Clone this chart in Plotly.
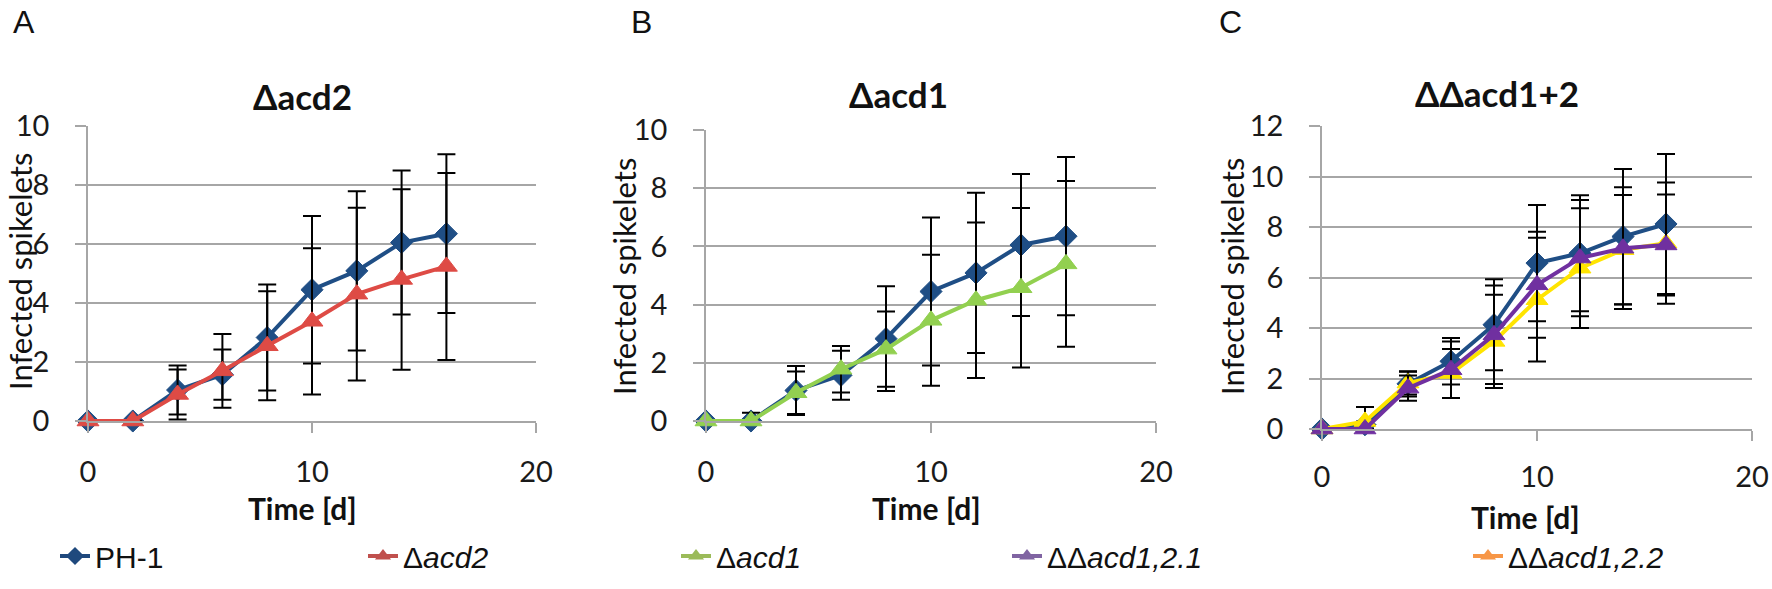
import plotly.graph_objects as go

W, H = 1772, 589

# ---- data ----
days = [0, 2, 4, 6, 8, 10, 12, 14, 16]

ph1_ab = [0, 0, 1.05, 1.57, 2.83, 4.45, 5.09, 6.05, 6.35]
ph1_a_err = [None, None, 0.83, 0.85, 1.8, 2.5, 2.7, 2.44, 2.69]
ph1_b_err = [None, None, 0.84, 0.84, 1.8, 2.54, 2.75, 2.44, 2.72]

acd2 = [0, 0, 0.9, 1.7, 2.55, 3.38, 4.3, 4.8, 5.24]
acd2_err = [None, None, 0.85, 1.25, 1.85, 2.48, 2.93, 3.06, 3.17]

acd1 = [0, 0, 0.97, 1.78, 2.47, 3.46, 4.15, 4.58, 5.4]
acd1_err = [None, 0.28, 0.73, 0.8, 1.29, 2.25, 2.67, 2.74, 2.85]

ph1_c = [0, 0.17, 1.79, 2.68, 4.13, 6.57, 6.96, 7.62, 8.12]
ph1_c_err = [None, 0.7, 0.5, 0.92, 1.8, 2.3, 2.3, 2.68, 2.77]

dd21 = [0, 0, 1.62, 2.35, 3.73, 5.71, 6.77, 7.16, 7.29]
dd21_err = [None, None, 0.5, 1.12, 1.95, 2.1, 2.3, 2.41, 2.0]

dd22 = [0, 0.3, 1.82, 2.2, 3.47, 5.12, 6.37, 7.1, 7.36]
dd22_err = [None, None, 0.45, 0.97, 1.85, 2.45, 2.37, 2.17, 2.4]

panel_titles = ["Δacd2", "Δacd1", "ΔΔacd1+2"]
panel_letters = ["A", "B", "C"]
y_ranges = [10, 10, 12]
legend_names = ["PH-1", "Δ<i>acd2</i>", "Δ<i>acd1</i>", "ΔΔ<i>acd1,2.1</i>", "ΔΔ<i>acd1,2.2</i>"]

# colours
BLUE = "#1F4E85"
RED = "#DE4B45"
GREEN = "#92D050"
PURPLE = "#7030A0"
YELLOW = "#FFE400"
LEG_COLORS = ["#1F497D", "#C0504D", "#9BBB59", "#8064A2", "#F79646"]
GRID = "#A6A6A6"

# ---- layout geometry in pixels ----
boxes = [  # x0, x1, ytop, ybottom
    (88, 536, 126, 421),
    (706, 1156, 130, 421),
    (1322, 1752, 126, 429),
]
title_pos = [(302, 96), (899, 94), (1497, 93)]
letter_pos = [(24, 22), (641, 22), (1230, 22)]
ytitle_pos = [(20, 272), (624, 277), (1232, 277)]
xtitle_pos = [(302, 508), (926, 508), (1525, 517)]
legend_text_x = [101, 409, 722, 1053, 1514]
LEGEND_Y = 556


def px(x):
    return x / W


def py(y):
    return 1 - y / H


fig = go.Figure()


def add_series(n, y, err, color, symbol, size):
    fig.add_trace(go.Scatter(
        x=days, y=y,
        mode="lines+markers",
        line=dict(color=color, width=4),
        marker=dict(symbol=symbol, size=size, color=color, line=dict(color=color, width=1)),
        error_y=dict(type="data", array=err, color="black", thickness=2, width=9),
        xaxis="x" if n == 1 else f"x{n}",
        yaxis="y" if n == 1 else f"y{n}",
        cliponaxis=False,
        showlegend=False,
    ))


# panel A
add_series(1, ph1_ab, ph1_a_err, BLUE, "diamond", 17)
add_series(1, acd2, acd2_err, RED, "triangle-up", 19)
# panel B
add_series(2, ph1_ab, ph1_b_err, BLUE, "diamond", 17)
add_series(2, acd1, acd1_err, GREEN, "triangle-up", 19)
# panel C
add_series(3, ph1_c, ph1_c_err, BLUE, "diamond", 17)
add_series(3, dd22, dd22_err, YELLOW, "triangle-up", 19)
add_series(3, dd21, dd21_err, PURPLE, "triangle-up", 19)

# legend entries (own legends so they can sit where the original has them)
leg_symbols = ["diamond", "triangle-up", "triangle-up", "triangle-up", "triangle-up"]
for i, (name, col, sym) in enumerate(zip(legend_names, LEG_COLORS, leg_symbols)):
    fig.add_trace(go.Scatter(
        x=[None], y=[None], name=name,
        mode="lines+markers",
        line=dict(color=col, width=4),
        marker=dict(symbol=sym, size=14, color=col),
        legend="legend" if i == 0 else f"legend{i + 1}",
    ))

layout = dict(
    width=W, height=H,
    margin=dict(l=0, r=0, t=0, b=0, autoexpand=False),
    paper_bgcolor="white", plot_bgcolor="white",
    font=dict(family="Lato", color="#1a1a1a"),
)

for i, (x0, x1, yt, yb) in enumerate(boxes):
    n = "" if i == 0 else str(i + 1)
    layout[f"xaxis{n}"] = dict(
        domain=[px(x0), px(x1)], range=[0, 20],
        tickvals=[0, 10, 20], ticks="outside", ticklen=10, tickwidth=1.5, tickcolor=GRID,
        showline=True, linecolor=GRID, linewidth=1.5,
        showgrid=False, zeroline=False,
        tickfont=dict(family="Lato", size=29, color="#1a1a1a"),
        ticklabelstandoff=14 if i < 2 else 11,
        anchor=f"y{n}",
    )
    layout[f"yaxis{n}"] = dict(
        domain=[py(yb), py(yt)], range=[0, y_ranges[i]], dtick=2,
        ticks="outside", ticklen=11, tickwidth=1.5, tickcolor=GRID,
        showline=True, linecolor=GRID, linewidth=1.5,
        showgrid=True, gridcolor=GRID, gridwidth=1.5, zeroline=False,
        tickfont=dict(family="Lato", size=29, color="#1a1a1a"),
        ticklabelstandoff=20,
        anchor=f"x{n}",
    )

annotations = []
for i in range(3):
    common = dict(xref="paper", yref="paper", showarrow=False,
                  xanchor="center", yanchor="middle")
    tx, ty = title_pos[i]
    annotations.append(dict(text=f"<b>{panel_titles[i]}</b>", x=px(tx), y=py(ty),
                            font=dict(family="Lato", size=35, color="#111"), **common))
    lx, ly = letter_pos[i]
    annotations.append(dict(text=panel_letters[i], x=px(lx), y=py(ly),
                            font=dict(family="Liberation Sans", size=32, color="#111"), **common))
    ax, ay = ytitle_pos[i]
    annotations.append(dict(text="Infected spikelets", x=px(ax), y=py(ay), textangle=-90,
                            font=dict(family="Lato", size=31, color="#111"), **common))
    bx, by = xtitle_pos[i]
    annotations.append(dict(text="<b>Time [d]</b>", x=px(bx), y=py(by),
                            font=dict(family="Lato", size=30, color="#111"), **common))
layout["annotations"] = annotations

for i, tx in enumerate(legend_text_x):
    key = "legend" if i == 0 else f"legend{i + 1}"
    layout[key] = dict(
        x=px(tx - 46), y=py(LEGEND_Y), xanchor="left", yanchor="middle",
        orientation="h", bgcolor="rgba(0,0,0,0)",
        font=dict(family="Liberation Sans", size=30, color="#111"),
        itemclick=False, itemdoubleclick=False,
    )

fig.update_layout(**layout)
# drop the browser's default 8px body margin so the figure sits at the page origin
fig.write_html("out.html", config={"displayModeBar": False},
               post_script="document.body.style.margin='0px';")
